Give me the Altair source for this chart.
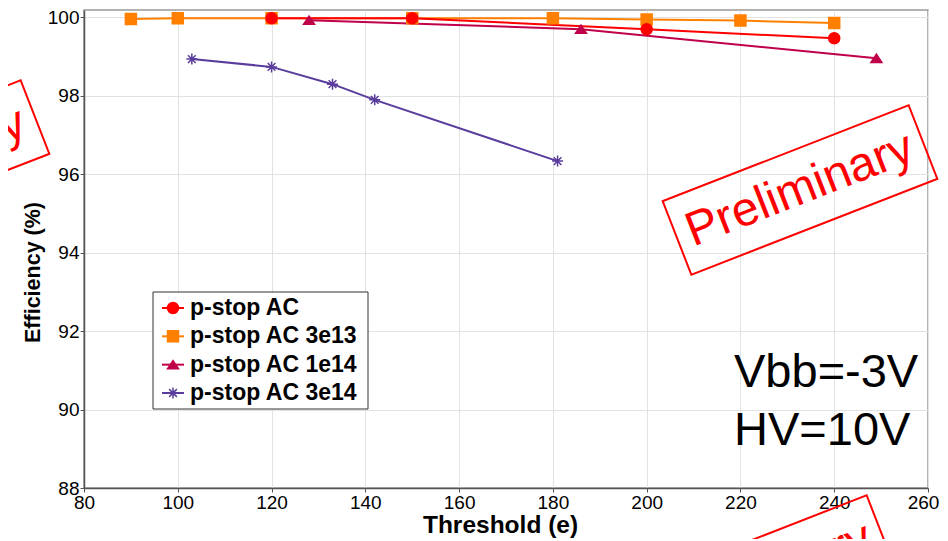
import altair as alt
import pandas as pd

# ---- data ----
series_names = ["p-stop AC", "p-stop AC 3e13", "p-stop AC 1e14", "p-stop AC 3e14"]
series_colors = ["#ff0000", "#ff8000", "#c0004a", "#5a3c9c"]
series_shapes = [
    "circle",
    "square",
    "M0,-0.75L1,0.75L-1,0.75Z",
    "M-1,0L1,0M0,-1L0,1M-0.7,-0.7L0.7,0.7M-0.7,0.7L0.7,-0.7",
]

thr_ac = [120, 150, 200, 240]
eff_ac = [99.97, 99.97, 99.69, 99.46]

thr_3e13 = [90, 100, 120, 150, 180, 200, 220, 240]
eff_3e13 = [99.95, 99.97, 99.97, 99.97, 99.97, 99.94, 99.91, 99.85]

thr_1e14 = [128, 186, 249]
eff_1e14 = [99.92, 99.69, 98.95]

thr_3e14 = [103, 120, 133, 142, 181]
eff_3e14 = [98.93, 98.73, 98.29, 97.89, 96.33]

x_ticks = [80, 100, 120, 140, 160, 180, 200, 220, 240, 260]
y_ticks = [88, 90, 92, 94, 96, 98, 100]
note_lines = ["Vbb=-3V", "HV=10V"]
watermark_text = "Preliminary"

all_thr = [thr_ac, thr_3e13, thr_1e14, thr_3e14]
all_eff = [eff_ac, eff_3e13, eff_1e14, eff_3e14]
draw_order = [1, 0, 2, 3]

rows = []
for i in draw_order:
    for t, e in zip(all_thr[i], all_eff[i]):
        rows.append({"series": series_names[i], "threshold": t, "efficiency": e})
df = pd.DataFrame(rows)
leg_df = pd.DataFrame({"series": series_names})
one = pd.DataFrame({"k": [0]})

color_scale = alt.Scale(domain=series_names, range=series_colors)
shape_scale = alt.Scale(domain=series_names, range=series_shapes)

x_enc = alt.X(
    "threshold:Q",
    scale=alt.Scale(domain=[80, 260], nice=False, zero=False),
    axis=alt.Axis(
        values=x_ticks, title="Threshold (e)", titleFontSize=24.5,
        titleX=416, titleY=44, titleAlign="center", titleBaseline="alphabetic",
        format="d", labelOffset={"expr": "datum.value == 260 ? -5 : 0"},
    ),
)
y_enc = alt.Y(
    "efficiency:Q",
    scale=alt.Scale(domain=[88, 100.18], nice=False, zero=False),
    axis=alt.Axis(
        values=y_ticks, title="Efficiency (%)", titleFontSize=21.5,
        titleX=-51, titleY=262, titleAngle=270, titleAlign="center",
        titleBaseline="middle", format="d",
    ),
)

lines = alt.Chart(df).mark_line(strokeWidth=2).encode(
    x=x_enc, y=y_enc,
    color=alt.Color("series:N", scale=color_scale, legend=None),
)
points = alt.Chart(df).mark_point(filled=True, size=121, strokeWidth=1.5, opacity=1).encode(
    x=x_enc, y=y_enc,
    fill=alt.Fill("series:N", scale=color_scale, legend=None),
    stroke=alt.Stroke("series:N", scale=color_scale, legend=None),
    shape=alt.Shape("series:N", scale=shape_scale, legend=None),
)
main = alt.layer(lines, points)

# ---- legend built from the series list ----
leg_y = alt.Y(
    "series:N",
    scale=alt.Scale(type="point", domain=series_names, range=[298, 383], padding=0),
    axis=None,
)
leg_box = alt.Chart(one).mark_rect(fill="white", stroke="#333333", strokeWidth=1).encode(
    x=alt.value(69), x2=alt.value(284), y=alt.value(282), y2=alt.value(399)
)
leg_rule = alt.Chart(leg_df).mark_rule(strokeWidth=2).encode(
    x=alt.value(78), x2=alt.value(100), y=leg_y,
    color=alt.Color("series:N", scale=color_scale, legend=None),
)
leg_pts = alt.Chart(leg_df).mark_point(filled=True, size=121, strokeWidth=1.5, opacity=1).encode(
    x=alt.value(89), y=leg_y,
    fill=alt.Fill("series:N", scale=color_scale, legend=None),
    stroke=alt.Stroke("series:N", scale=color_scale, legend=None),
    shape=alt.Shape("series:N", scale=shape_scale, legend=None),
)
leg_txt = alt.Chart(leg_df).mark_text(
    align="left", baseline="middle", font="Liberation Sans", fontWeight="bold",
    fontSize=23, color="black",
).encode(x=alt.value(106), y=leg_y, text="series:N")
legend = alt.layer(leg_box, leg_rule, leg_pts, leg_txt)

# ---- watermarks ----
box_path = "M-1,-0.299L1,-0.299L1,0.299L-1,0.299Z"
wm_angle = 338.7


def watermark(cx, cy):
    box = alt.Chart(one).mark_point(
        shape=box_path, size=264 * 264, angle=wm_angle, filled=False,
        color="#ff0000", strokeWidth=2, opacity=1,
    ).encode(x=alt.value(cx), y=alt.value(cy))
    txt = alt.Chart(one).mark_text(
        text=watermark_text, angle=wm_angle, fontSize=48, font="Liberation Sans",
        color="#ff0000", align="center", baseline="middle",
    ).encode(x=alt.value(cx), y=alt.value(cy))
    return alt.layer(box, txt)


note = alt.Chart(one).mark_text(
    text=note_lines, fontSize=47, font="Liberation Sans", align="left",
    baseline="alphabetic", lineHeight=58, color="black",
).encode(x=alt.value(650), y=alt.value(377))

chart = alt.layer(
    main, legend, watermark(716, 180), watermark(-172, 155), watermark(674, 570), note
).resolve_scale(y="independent").properties(
    width=844, height=478,
    autosize=alt.AutoSizeParams(type="none"),
    padding={"left": 76, "top": 2, "right": 12, "bottom": 51},
).configure_view(
    stroke="#999999", strokeWidth=1.5
).configure_axis(
    gridColor="#e2e2e2", gridWidth=1, domainColor="#555555", domainWidth=1.5,
    tickColor="#555555", tickSize=4, labelPadding=1,
    labelFont="Liberation Sans", labelFontSize=19, labelColor="black",
    labelFlush=False, titleFont="Liberation Sans", titleFontWeight="bold",
    titleColor="black",
)

chart.save("out.html", embed_options={"renderer": "svg", "actions": False})
